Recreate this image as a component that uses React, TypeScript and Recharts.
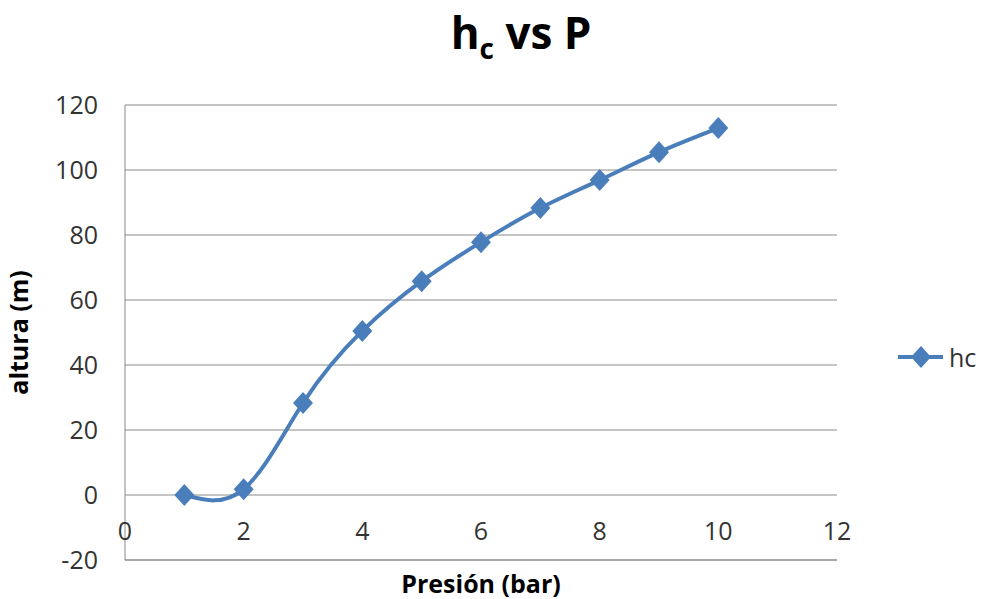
import React from 'react';
import { LineChart, Line, XAxis, YAxis, CartesianGrid } from 'recharts';

const presion = [1, 2, 3, 4, 5, 6, 7, 8, 9, 10];
const altura = [0, 1.8, 28.3, 50.5, 65.8, 77.8, 88.3, 96.9, 105.5, 112.9];
const xTicks = [0, 2, 4, 6, 8, 10, 12];
const yTicks = [-20, 0, 20, 40, 60, 80, 100, 120];

const data = presion.map((p, i) => ({ presion: p, hc: altura[i] }));

const BLUE = '#4a7ebb';
const GRID = '#8a8a8a';
const FONT = '"Open Sans", Lato, sans-serif';

const Diamond = (props: any) => {
    const { cx, cy } = props;
    if (cx == null || cy == null) return null;
    return <polygon points={`${cx},${cy - 11} ${cx + 10},${cy} ${cx},${cy + 11} ${cx - 10},${cy}`} fill={BLUE} />;
};

// x labels sit just under the y=0 line, like Excel does
const XTick = (props: any) => {
    const { x, y, payload } = props;
    return (
        <text x={x} y={y - 30} textAnchor="middle" dominantBaseline="central" fontSize={25} fill="#333" fontFamily={FONT}>
            {payload.value}
        </text>
    );
};

export default function App() {
    return (
        <div style={{ position: 'absolute', left: 0, top: 0, width: 999, height: 599, background: '#fff' }}>
            <div style={{ position: 'absolute', top: 3, left: 420, width: 202, textAlign: 'center', fontFamily: FONT, fontWeight: 700, fontSize: 44, lineHeight: '58px', color: '#000' }}>
                h<sub style={{ fontSize: 28, verticalAlign: -10 }}>c</sub> vs P
            </div>
            <svg width={104} height={40} style={{ position: 'absolute', left: 893, top: 337 }}>
                <line x1={5} y1={20} x2={50} y2={20} stroke={BLUE} strokeWidth={4} />
                <polygon points="28,9 38,20 28,31 18,20" fill={BLUE} />
                <text x={56} y={20} dominantBaseline="central" fontSize={25} fill="#333" fontFamily={FONT}>hc</text>
            </svg>
            <LineChart width={999} height={599} data={data} margin={{ top: 105, right: 162, bottom: 0, left: 0 }}>
                <CartesianGrid vertical={false} stroke={GRID} />
                <XAxis
                    dataKey="presion"
                    type="number"
                    domain={[0, 12]}
                    ticks={xTicks}
                    stroke={GRID}
                    tickLine={false}
                    tickSize={0}
                    tickMargin={0}
                    tick={<XTick />}
                    height={39}
                    label={{ value: 'Presión (bar)', position: 'insideBottom', offset: 6, fontSize: 25, fontWeight: 700, fill: '#000', fontFamily: FONT }}
                />
                <YAxis
                    type="number"
                    domain={[-20, 120]}
                    ticks={yTicks}
                    width={125}
                    stroke={GRID}
                    tickLine={false}
                    tickSize={0}
                    tickMargin={27}
                    tick={{ fontSize: 25, fill: '#333', fontFamily: FONT }}
                    label={{ value: 'altura (m)', angle: -90, position: 'insideLeft', offset: 19, fontSize: 25, fontWeight: 700, fill: '#000', fontFamily: FONT, style: { textAnchor: 'middle' } }}
                />
                <Line
                    type="natural"
                    dataKey="hc"
                    stroke={BLUE}
                    strokeWidth={4}
                    dot={<Diamond />}
                    activeDot={false}
                    isAnimationActive={false}
                />
            </LineChart>
        </div>
    );
}
